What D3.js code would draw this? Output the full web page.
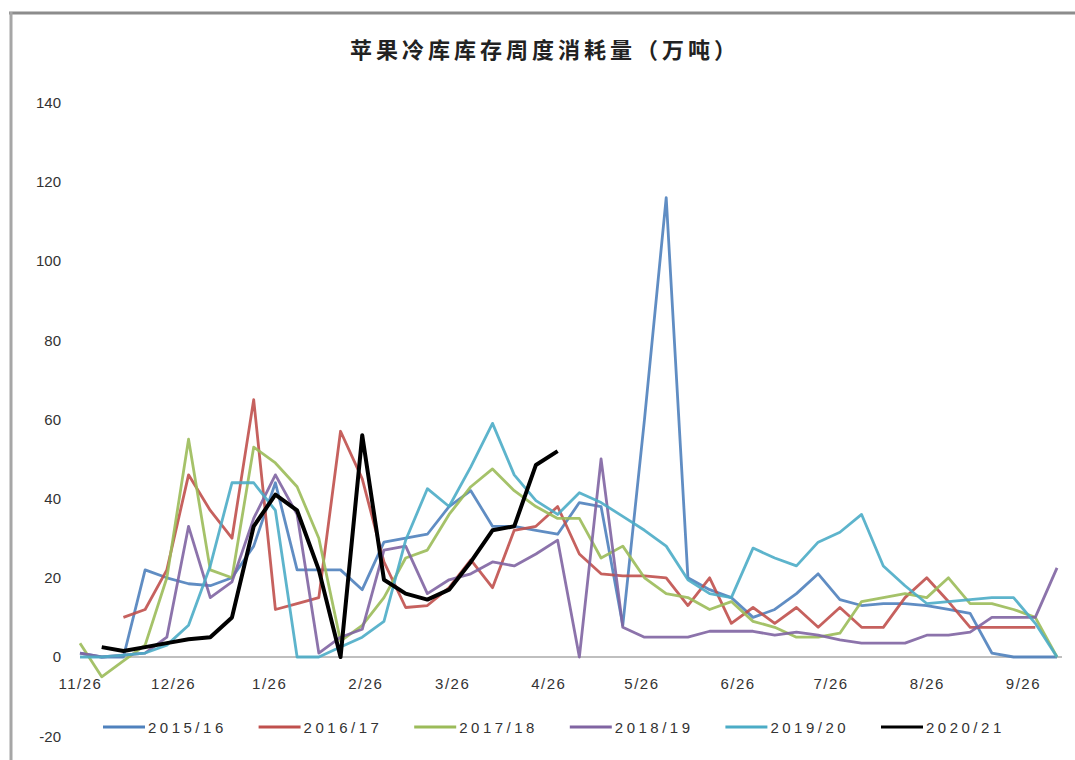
<script src="https://cdn.jsdelivr.net/npm/d3@7"></script>
<style>
  body { margin: 0; background: #fff; }
  svg text { font-family: "Liberation Sans", Arial, sans-serif; }
</style>
<svg width=1075 height=760></svg>
<script>
// weekly dates (m/d), 2020-11-26 .. 2021-10-07
var weeks = ["11/26","12/3","12/10","12/17","12/24","12/31","1/7","1/14","1/21","1/28",
  "2/4","2/11","2/18","2/25","3/4","3/11","3/18","3/25","4/1","4/8",
  "4/15","4/22","4/29","5/6","5/13","5/20","5/27","6/3","6/10","6/17",
  "6/24","7/1","7/8","7/15","7/22","7/29","8/5","8/12","8/19","8/26",
  "9/2","9/9","9/16","9/23","9/30","10/7"]
var tickLabels = ["11/26","12/26","1/26","2/26","3/26","4/26","5/26","6/26","7/26","8/26","9/26"]
var yTicks = [-20, 0, 20, 40, 60, 80, 100, 120, 140]

var seriesNames = ["2015/16", "2016/17", "2017/18", "2018/19", "2019/20", "2020/21"]
var colors = ["#4F81BD", "#C0504D", "#9BBB59", "#8064A2", "#4BACC6", "#000000"]

var s1516 = [1,0,0,22,20,18.5,18,20,28,44,22,22,22,17,29,30,31,38,42,33,33,32,31,39,38,8,60,116,20,17,15,10,12,16,21,14.5,13,13.5,13.5,13,12,11,1,0,0,0]
var s1617 = [null,null,10,12,22,46,37,30,65,12,13.5,15,57,45,24,12.5,13,17.5,24.5,17.5,32,33,38,26,21,20.5,20.5,20,13,20,8.5,12.5,8.5,12.5,7.5,12.5,7.5,7.5,15,20,14,7.5,7.5,7.5,7.5,null]
var s1718 = [3.5,-5,-1,3,20,55,22,20,53,49,43,30,4,8,15,25,27,36,43,47.5,42,38,35,35,25,28,20,16,15,12,14,9,7.5,5,5,6,14,15,16,15,20,13.5,13.5,12,10,0]
var s1819 = [1,0,0.5,1,5,33,15,19,35,46,36,1,5,7,27,28,16,19.5,21,24,23,26,29.5,0,50,7.5,5,5,5,6.5,6.5,6.5,5.5,6.3,5.5,4.3,3.5,3.5,3.5,5.5,5.5,6.3,10,10,10,22.5]
var s1920 = [0,0,0.5,1,3,8,23,44,44,37,0,0,2.5,5,9,29.5,42.5,38,48,59,46,39.5,36,41.5,39,35.5,32,28,19.5,16,15,27.5,25,23,29,31.5,36,23,18,13.5,14,14.5,15,15,8.5,0]
var s2021 = [null,2.5,1.5,2.5,3.5,4.5,5,10,33,41,37,22,0,56,19.5,16,14.5,17,24,32,33,48.5,52]

var allSeries = [s1516, s1617, s1718, s1819, s1920, s2021]

function toDate(md) {
  var p = md.split("/").map(Number)
  return new Date(Date.UTC(p[0] >= 11 ? 2020 : 2021, p[0] - 1, p[1]))
}

var svg = d3.select("svg")

// frame
svg.append("line").attr("x1", 9).attr("x2", 1075).attr("y1", 13).attr("y2", 13)
  .attr("stroke", "#8c8c8c").attr("stroke-width", 3)
svg.append("line").attr("x1", 11).attr("x2", 11).attr("y1", 12).attr("y2", 760)
  .attr("stroke", "#a6a6a6").attr("stroke-width", 3)

// title
svg.append("text")
  .attr("x", 545).attr("y", 58)
  .attr("text-anchor", "middle")
  .style("font-family", "'Noto Sans CJK SC'")
  .style("font-size", "22px")
  .style("font-weight", "bold")
  .style("letter-spacing", "4px")
  .attr("fill", "#222")
  .text("苹果冷库库存周度消耗量（万吨）")

var x = d3.scaleUtc()
  .domain([toDate(weeks[0]), toDate(weeks[weeks.length - 1])])
  .range([80, 1057])

var y = d3.scaleLinear().domain([-20, 140]).range([736.2, 102.6])

// y labels
svg.append("g")
  .attr("transform", "translate(61,0)")
  .call(d3.axisLeft(y).tickValues(yTicks).tickSize(0).tickPadding(0).tickFormat(d => d))
  .call(g => g.select(".domain").remove())
  .selectAll("text")
  .style("font-size", "15px")
  .attr("fill", "#333")

// zero line
svg.append("line")
  .attr("x1", x.range()[0]).attr("x2", 1062)
  .attr("y1", y(0)).attr("y2", y(0))
  .attr("stroke", "#bfbfbf").attr("stroke-width", 2)

// x labels
svg.append("g")
  .attr("transform", "translate(0," + (y(0) + 21) + ")")
  .call(d3.axisBottom(x).tickValues(tickLabels.map(toDate)).tickSize(0).tickPadding(0)
    .tickFormat((d, i) => tickLabels[i]))
  .call(g => g.select(".domain").remove())
  .selectAll("text")
  .style("font-size", "15px")
  .style("letter-spacing", "1.5px")
  .attr("fill", "#333")

// lines
var line = d3.line()
  .defined(d => d[1] != null)
  .x(d => x(toDate(d[0])))
  .y(d => y(d[1]))

allSeries.forEach(function(s, i) {
  svg.append("path")
    .attr("d", line(s.map((v, k) => [weeks[k], v])))
    .attr("fill", "none")
    .attr("stroke", colors[i])
    .attr("stroke-width", i == 5 ? 4 : 2.8)
    .attr("stroke-linejoin", "round")
    .attr("opacity", i == 5 ? 1 : 0.9)
})

// legend
var legend = svg.append("g").attr("transform", "translate(103,727)")
seriesNames.forEach(function(name, i) {
  var g = legend.append("g").attr("transform", "translate(" + (i * 155.6) + ",0)")
  g.append("line").attr("x1", 0).attr("x2", 42).attr("y1", 0).attr("y2", 0)
    .attr("stroke", colors[i]).attr("stroke-width", 3)
  g.append("text").attr("x", 45).attr("y", 6)
    .style("font-size", "15px")
    .style("letter-spacing", "3.5px")
    .attr("fill", "#333")
    .text(name)
})
</script>
